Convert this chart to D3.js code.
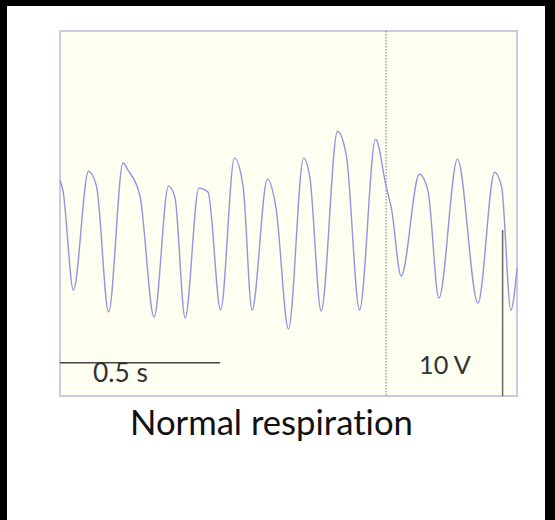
<!DOCTYPE html>
<html><head><meta charset="utf-8">
<script src="https://cdn.jsdelivr.net/npm/d3@7"></script>
<style>html,body{margin:0;padding:0;background:#000;}svg{display:block;}text{font-variant-ligatures:none;font-feature-settings:"liga" 0;}</style>
</head><body>
<script>
// Trace: time in seconds, signal in volts
const timeS = [0, 0.009, 0.042, 0.089, 0.114, 0.152, 0.197, 0.2125, 0.25, 0.294,
  0.339, 0.359, 0.391, 0.434, 0.4625, 0.502, 0.545, 0.572, 0.600, 0.648,
  0.675, 0.714, 0.761, 0.781, 0.816, 0.867, 0.895, 0.936, 0.986, 1.019,
  1.036, 1.066, 1.123, 1.15, 1.184, 1.242, 1.306, 1.358, 1.380, 1.409, 1.428];
const voltage = [13.01, 12.41, 6.39, 13.55, 12.65, 5.06, 14.04, 13.61, 12.05, 4.76,
  12.65, 11.99, 4.70, 12.53, 12.29, 5.18, 14.34, 12.65, 5.18, 13.07,
  11.33, 4.04, 14.34, 13.13, 5.12, 15.96, 14.46, 5.18, 15.48, 12.65,
  11.27, 7.23, 13.37, 12.35, 5.90, 14.28, 5.60, 13.49, 12.59, 5.18, 7.71];
const timeDomain = [0, 1.428];
const voltDomain = [0, 22];
const markerTime = 1.019;
const timeBar = {t0: 0, t1: 0.5, v: 2, label: "0.5 s"};
const voltBar = {t: 1.383, v0: 0, v1: 10, label: "10 V"};
const title = "Normal respiration";

const W = 555, H = 520;
const svg = d3.select("body").append("svg").attr("width", W).attr("height", H);
svg.append("rect").attr("width", W).attr("height", H).attr("fill", "#000");
svg.append("rect").attr("x", 7).attr("y", 6).attr("width", 538).attr("height", 514).attr("fill", "#fff");

const x = d3.scaleLinear().domain(timeDomain).range([60, 517]);
const y = d3.scaleLinear().domain(voltDomain).range([396, 31]);

svg.append("rect").attr("x", x(timeDomain[0])).attr("y", y(voltDomain[1]))
  .attr("width", x(timeDomain[1]) - x(timeDomain[0]))
  .attr("height", y(voltDomain[0]) - y(voltDomain[1]))
  .attr("fill", "#fefef1").attr("stroke", "#c6cde0").attr("stroke-width", 2);

// dotted marker
svg.append("line").attr("x1", x(markerTime)).attr("x2", x(markerTime))
  .attr("y1", y(voltDomain[1])).attr("y2", y(voltDomain[0]))
  .attr("stroke", "#777").attr("stroke-width", 1).attr("stroke-dasharray", "1.5,1.5");

const pts = timeS.map((t, i) => [t, voltage[i]]);
svg.append("path").datum(pts)
  .attr("d", d3.line().x(d => x(d[0])).y(d => y(d[1])).curve(d3.curveMonotoneX))
  .attr("fill", "none").attr("stroke", "#9495e0").attr("stroke-width", 1.4);

// scale bars
svg.append("line").attr("x1", x(timeBar.t0)).attr("x2", x(timeBar.t1))
  .attr("y1", y(timeBar.v)).attr("y2", y(timeBar.v))
  .attr("stroke", "#444").attr("stroke-width", 1.5);
svg.append("line").attr("x1", x(voltBar.t)).attr("x2", x(voltBar.t))
  .attr("y1", y(voltBar.v0)).attr("y2", y(voltBar.v1))
  .attr("stroke", "#666").attr("stroke-width", 1.5);

function fitText(sel, target) {
  const w = sel.node().getComputedTextLength();
  const fs = parseFloat(sel.attr("font-size"));
  sel.attr("font-size", fs * target / w);
}
const font = "Lato, 'Open Sans', sans-serif";
const t1 = svg.append("text").attr("x", 93).attr("y", 382).attr("font-family", font)
  .attr("font-size", 20).attr("fill", "#333").text(timeBar.label);
fitText(t1, 55);
const t2 = svg.append("text").attr("x", 419).attr("y", 374).attr("font-family", font)
  .attr("font-size", 20).attr("fill", "#333").text(voltBar.label);
fitText(t2, 52);
const t3 = svg.append("text").attr("x", 130).attr("y", 435).attr("font-family", font)
  .attr("font-size", 28).attr("fill", "#111").text(title);
fitText(t3, 283);
</script>
</body></html>
